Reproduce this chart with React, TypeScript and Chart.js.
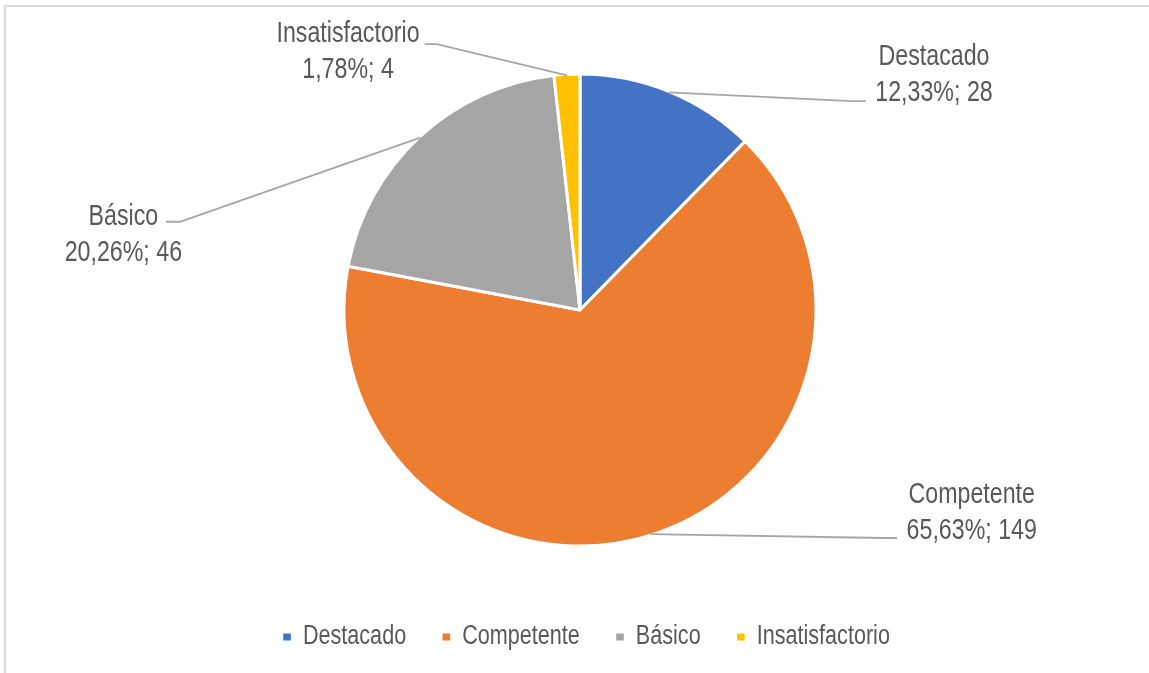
import React, { useEffect, useRef } from "react";
import { Chart, registerables } from "chart.js";

Chart.register(...registerables);

const categories = ["Destacado", "Competente", "Básico", "Insatisfactorio"];
const counts = [28, 149, 46, 4];
const percentLabels = ["12,33%", "65,63%", "20,26%", "1,78%"];
const colors = ["#4472C4", "#ED7D31", "#A5A5A5", "#FFC000"];

// label layout (in units of the pie radius, relative to the pie centre)
const labelCenters: [number, number][] = [
  [1.5, -0.995],
  [1.66, 0.862],
  [-1.935, -0.319],
  [-0.983, -1.095],
];
const leaderElbows: [number, number][] = [
  [1.152, -0.885],
  [1.284, 0.966],
  [-1.695, -0.374],
  [-0.607, -1.127],
];
const leaderTails = [14, 14, -14, -12];

const FONT = "'Liberation Sans Narrow', 'Liberation Sans', Arial, sans-serif";
const TEXT_COLOR = "#595959";
const CONDENSE = 0.8; // horizontal squeeze to imitate the narrow typeface
const LEGEND_CENTER_X = 610;

const labelPlugin = {
  id: "pieLabels",
  afterDatasetsDraw(chart: any) {
    const ctx = chart.ctx;
    const meta = chart.getDatasetMeta(0);
    ctx.save();
    meta.data.forEach((arc: any, i: number) => {
      const { x, y, startAngle, endAngle, outerRadius } = arc.getProps(
        ["x", "y", "startAngle", "endAngle", "outerRadius"],
        true
      );
      const R = outerRadius;
      const mid = (startAngle + endAngle) / 2;
      const px = x + Math.cos(mid) * (R - 1);
      const py = y + Math.sin(mid) * (R - 1);
      const ex = x + leaderElbows[i][0] * R;
      const ey = y + leaderElbows[i][1] * R;
      ctx.beginPath();
      ctx.strokeStyle = "#A6A6A6";
      ctx.lineWidth = 1.8;
      ctx.moveTo(px, py);
      ctx.lineTo(ex, ey);
      ctx.lineTo(ex + leaderTails[i], ey);
      ctx.stroke();

      const tx = x + labelCenters[i][0] * R;
      const ty = y + labelCenters[i][1] * R;
      ctx.save();
      ctx.translate(tx, 0);
      ctx.scale(CONDENSE, 1);
      ctx.fillStyle = TEXT_COLOR;
      ctx.font = `29px ${FONT}`;
      ctx.textAlign = "center";
      ctx.textBaseline = "middle";
      const lh = 36;
      ctx.fillText(categories[i], 0, ty - lh / 2);
      ctx.fillText(`${percentLabels[i]}; ${counts[i]}`, 0, ty + lh / 2);
      ctx.restore();
    });
    ctx.restore();
  },
};

// squeeze the legend horizontally (legend layer is drawn between these hooks)
const legendCondense = {
  id: "legendCondense",
  beforeDraw(chart: any) {
    const ctx = chart.ctx;
    ctx.save();
    ctx.translate(LEGEND_CENTER_X, 0);
    ctx.scale(CONDENSE, 1);
    ctx.translate(-LEGEND_CENTER_X, 0);
  },
  beforeDatasetsDraw(chart: any) {
    chart.ctx.restore();
  },
};

export default function App() {
  const ref = useRef<HTMLCanvasElement | null>(null);

  useEffect(() => {
    document.body.style.margin = "0";
    if (!ref.current) return;
    const chart = new Chart(ref.current, {
      type: "pie",
      data: {
        labels: categories,
        datasets: [
          {
            data: counts,
            backgroundColor: colors,
            borderColor: "#FFFFFF",
            borderWidth: 3,
            radius: 236,
          } as any,
        ],
      },
      options: {
        responsive: false,
        animation: false,
        layout: { padding: { top: 40.5, bottom: 12.5, left: 11, right: 0 } },
        plugins: {
          tooltip: { enabled: false },
          legend: {
            display: true,
            position: "bottom",
            labels: {
              boxWidth: 12.5,
              boxHeight: 10,
              padding: 44,
              color: TEXT_COLOR,
              font: { family: FONT, size: 27 },
            },
          },
        },
      },
      plugins: [legendCondense, labelPlugin],
    });
    return () => chart.destroy();
  }, []);

  return (
    <div style={{ position: "absolute", left: 0, top: 0, width: 1149, height: 673, overflow: "hidden", background: "#fff" }}>
      <div
        style={{
          position: "absolute",
          left: 4,
          top: 5,
          width: 1200,
          height: 700,
          borderTop: "2px solid #D9D9D9",
          borderLeft: "2px solid #D9D9D9",
        }}
      />
      <canvas ref={ref} width={1149} height={673} style={{ position: "absolute", left: 0, top: 0 }} />
    </div>
  );
}
